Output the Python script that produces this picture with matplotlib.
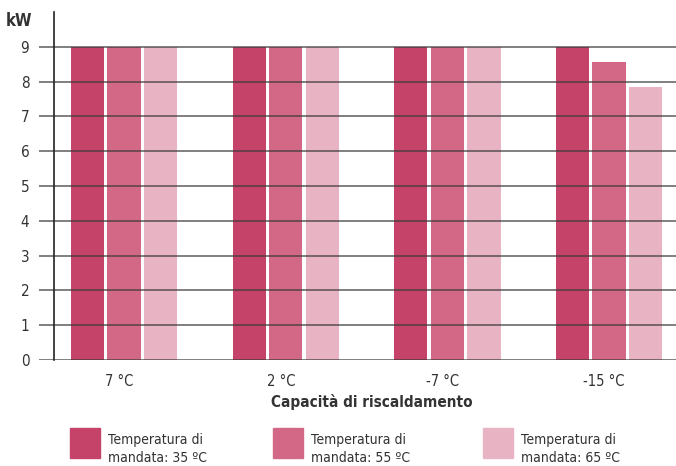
import numpy as np
import matplotlib.pyplot as plt
from matplotlib.patches import Rectangle

plt.rcParams['font.family'] = ['DejaVu Sans']
plt.rcParams['font.stretch'] = 'condensed'

categorie = ["7 °C", "2 °C", "-7 °C", "-15 °C"]
serie = ["Temperatura di\nmandata: 35 ºC",
         "Temperatura di\nmandata: 55 ºC",
         "Temperatura di\nmandata: 65 ºC"]
t35 = [9.0, 9.0, 9.0, 9.0]
t55 = [9.0, 9.0, 9.0, 8.55]
t65 = [9.0, 9.0, 9.0, 7.85]
colori = ["#c54369", "#d36886", "#e8b4c4"]
testo = "#333333"

W, H = 676, 466
fig = plt.figure(figsize=(W / 100, H / 100), dpi=100)
ax = fig.add_axes([39 / W, 106 / H, (W - 39) / W, 348 / H])

x = np.arange(len(categorie))
larg = 0.205
passo = 0.226
for i, (vals, col) in enumerate(zip([t35, t55, t65], colori)):
    ax.bar(x + (i - 1) * passo, vals, width=larg, color=col, zorder=2)

ax.set_xlim(-0.526, 3.414)
ax.set_ylim(0, 10)

# griglia sopra le barre
for y in range(0, 10):
    ax.axhline(y, color="#3a3a3a", alpha=0.7, lw=1.3, zorder=3)
ax.plot([-0.433, -0.433], [0, 10], color="#222222", lw=1.2, zorder=4, clip_on=False)

for s in ax.spines.values():
    s.set_visible(False)
ax.set_yticks(range(0, 10))
ax.set_yticklabels([str(v) for v in range(0, 10)], color=testo, fontsize=11)
ax.tick_params(axis="y", length=0, pad=7)
ax.set_xticks(x - 0.03)
ax.set_xticklabels(categorie, color=testo, fontsize=10.5)
ax.tick_params(axis="x", length=0, pad=10)

fig.text(19 / W, 1 - 21 / H, "kW", ha="center", va="center",
         fontsize=12, fontweight="bold", color=testo)
fig.text(372 / W, 1 - 402 / H, "Capacità di riscaldamento", ha="center",
         va="center", fontsize=11, fontweight="bold", color=testo)

# legenda
for xq, lab, col in zip([70, 273, 483], serie, colori):
    fig.add_artist(Rectangle((xq / W, 1 - 458 / H), 30 / W, 30 / H,
                             transform=fig.transFigure, color=col))
    fig.text((xq + 38) / W, 1 - 449 / H, lab, ha="left", va="center",
             fontsize=10, color=testo, linespacing=1.45)

fig.savefig("out.png", dpi=100)
